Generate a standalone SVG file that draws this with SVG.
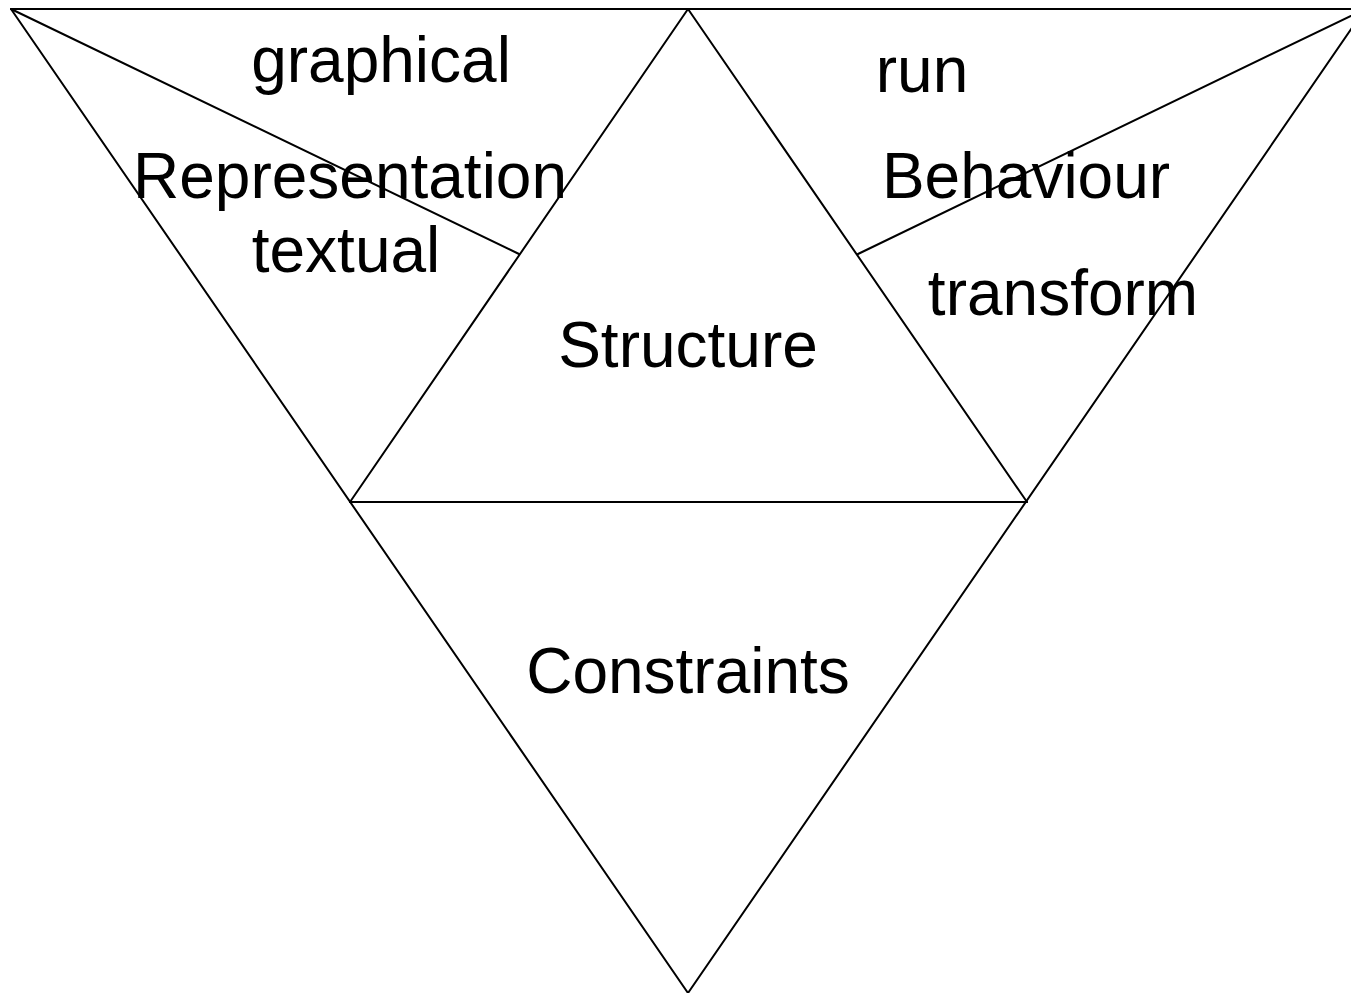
<svg xmlns="http://www.w3.org/2000/svg" width="1351" height="993" viewBox="0 0 1351 993">
  <style>
    .edge { stroke: #000; stroke-width: 2; fill: none; stroke-linecap: round; }
    .lbl { font-family: "Liberation Sans", Arial, sans-serif; font-size: 64px; fill: #000; text-anchor: middle; }
  </style>
  <rect width="1351" height="993" fill="#fff"/>
  <!-- outline and dividing lines (right corner lies just past the edge) -->
  <g id="connectors">
    <line class="edge" x1="11" y1="9" x2="1365" y2="9"/>
    <line class="edge" x1="11" y1="9" x2="688" y2="993"/>
    <line class="edge" x1="1365" y1="9" x2="688" y2="993"/>
    <line class="edge" x1="688" y1="9" x2="350" y2="502"/>
    <line class="edge" x1="688" y1="9" x2="1027" y2="502"/>
    <line class="edge" x1="350" y1="502" x2="1027" y2="502"/>
    <line class="edge" x1="11" y1="9" x2="519" y2="254"/>
    <line class="edge" x1="1365" y1="9" x2="858" y2="254"/>
  </g>
  <g id="representation">
    <text class="lbl" x="381" y="82">graphical</text>
    <text class="lbl" x="350" y="198">Representation</text>
    <text class="lbl" x="346" y="272">textual</text>
  </g>
  <g id="structure">
    <text class="lbl" x="688" y="367">Structure</text>
  </g>
  <g id="behaviour">
    <text class="lbl" x="922" y="92">run</text>
    <text class="lbl" x="1026" y="198">Behaviour</text>
    <text class="lbl" x="1063" y="315">transform</text>
  </g>
  <g id="constraints">
    <text class="lbl" x="688" y="693">Constraints</text>
  </g>
</svg>
